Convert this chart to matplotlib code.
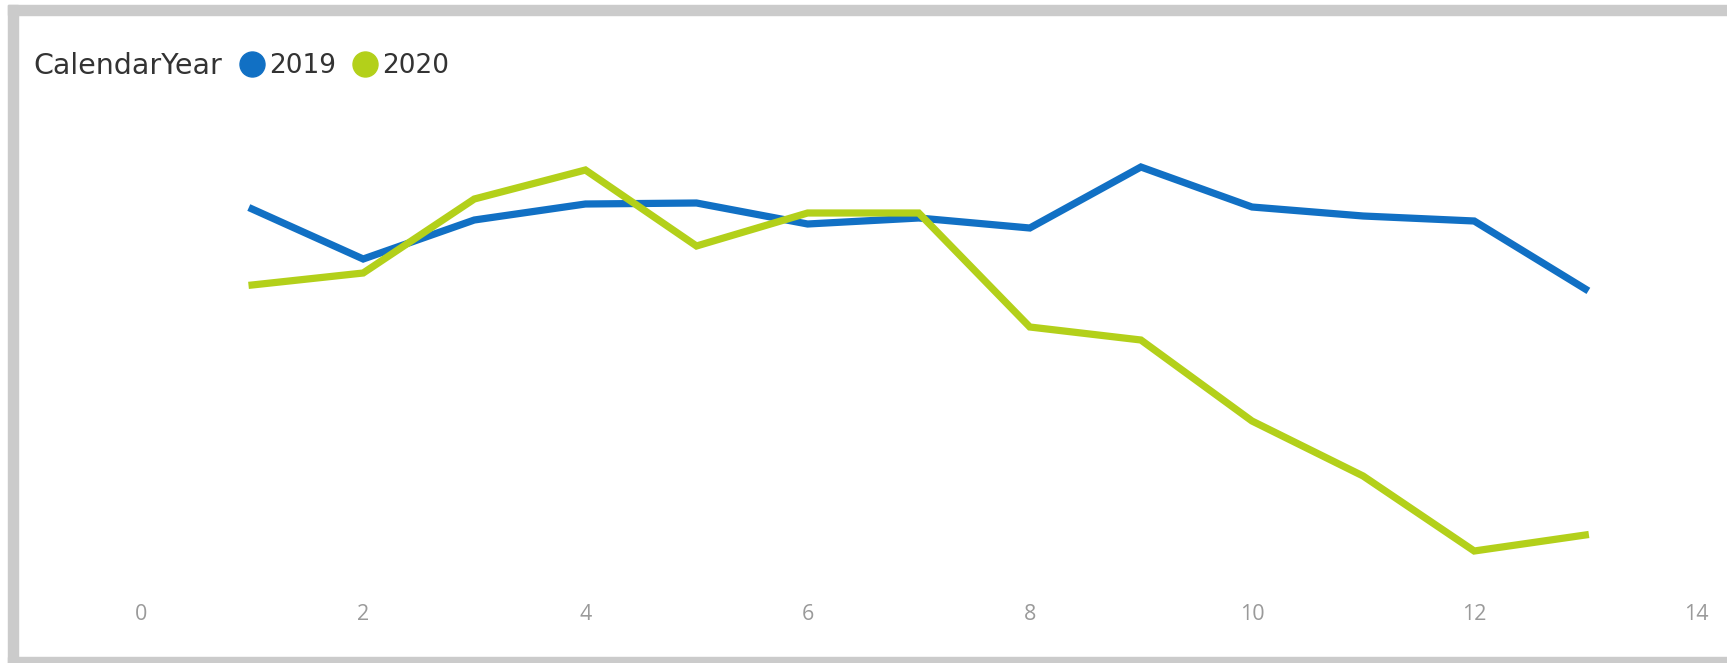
import matplotlib
matplotlib.use("Agg")
import matplotlib.pyplot as plt
from matplotlib.lines import Line2D
from matplotlib.patches import Rectangle

# data (y axis has no labels, units are arbitrary)
months = [1, 2, 3, 4, 5, 6, 7, 8, 9, 10, 11, 12, 13]
sales_2019 = [39.1, 34.1, 38.0, 39.6, 39.7, 37.6, 38.2, 37.2, 43.3, 39.3, 38.4, 37.9, 31.1]
sales_2020 = [31.5, 32.7, 40.1, 43.0, 35.4, 38.7, 38.7, 27.3, 26.0, 17.9, 12.4, 4.9, 6.5]
years = ["2019", "2020"]
xticks = [0, 2, 4, 6, 8, 10, 12, 14]

blue = "#1170C4"
green = "#B3D01A"

W, H = 1727, 663
fig = plt.figure(figsize=(W / 100, H / 100), dpi=100)
plt.rcParams["font.family"] = ["Open Sans", "DejaVu Sans"]

# grey frame of the visual
grey = "#cbcbcb"
fig.patches.append(Rectangle((8 / W, (H - 15) / H), 1, 10 / H, transform=fig.transFigure,
                             color=grey, zorder=0))
fig.patches.append(Rectangle((8 / W, 0), 1, 6 / H, transform=fig.transFigure,
                             color=grey, zorder=0))
fig.patches.append(Rectangle((8 / W, 0), 10 / W, (H - 5) / H, transform=fig.transFigure,
                             color=grey, zorder=0))

left, right = 141, 141 + 14 * 111.1
bottom, top = 600, 100
ax = fig.add_axes([left / W, (H - bottom) / H, (right - left) / W, (bottom - top) / H])
ax.set_facecolor("none")

ax.plot(months, sales_2019, color=blue, lw=5.2, solid_joinstyle="miter")
ax.plot(months, sales_2020, color=green, lw=5.2, solid_joinstyle="miter")

ax.set_xlim(0, 14)
ax.set_ylim(0, 50)
ax.set_xticks(xticks)
ax.set_yticks([])
ax.tick_params(axis="x", length=0, pad=3, labelsize=15.5, labelcolor="#9a9a9a")
for s in ax.spines.values():
    s.set_visible(False)

fig.text(33 / W, (H - 66) / H, "CalendarYear", fontsize=20.5, color="#333333",
         va="center", ha="left", family="DejaVu Sans")
handles = [Line2D([], [], ls="", marker="o", ms=18, color=blue),
           Line2D([], [], ls="", marker="o", ms=18, color=green)]
fig.legend(handles, years, loc="center left", bbox_to_anchor=(244 / W, (H - 66) / H),
           ncol=2, frameon=False, handlelength=0.6, handletextpad=0.35,
           columnspacing=0.8, borderpad=0, borderaxespad=0, labelcolor="#333333",
           prop={"family": "DejaVu Sans", "size": 19})

fig.savefig("out.png", dpi=100)
